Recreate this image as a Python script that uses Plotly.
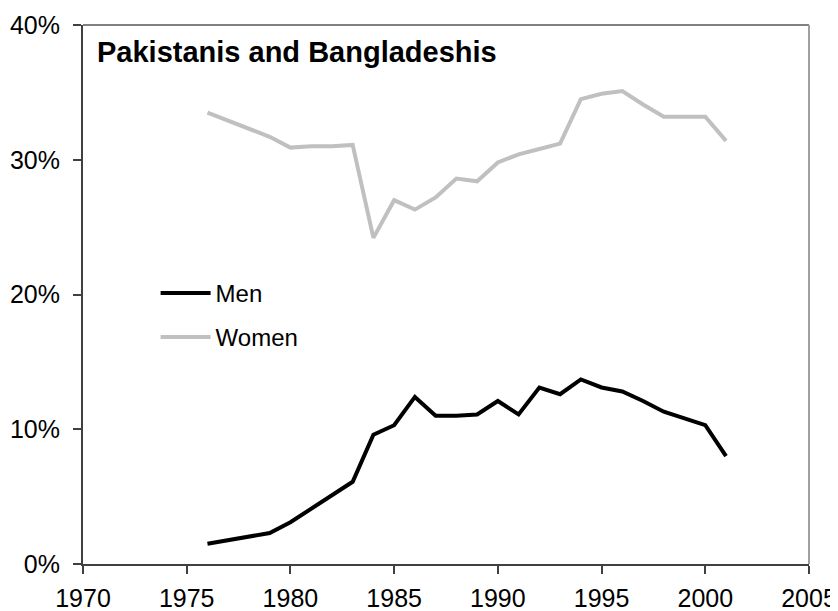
import plotly.graph_objects as go

years_men = [1976, 1979, 1980, 1981, 1982, 1983, 1984, 1985, 1986, 1987, 1988, 1989, 1990,
             1991, 1992, 1993, 1994, 1995, 1996, 1997, 1998, 1999, 2000, 2001]
men = [1.5, 2.3, 3.1, 4.1, 5.1, 6.1, 9.6, 10.3, 12.4, 11.0, 11.0, 11.1, 12.1,
       11.1, 13.1, 12.6, 13.7, 13.1, 12.8, 12.1, 11.3, 10.8, 10.3, 8.0]

years_women = [1976, 1979, 1980, 1981, 1982, 1983, 1984, 1985, 1986, 1987, 1988, 1989, 1990,
               1991, 1992, 1993, 1994, 1995, 1996, 1997, 1998, 1999, 2000, 2001]
women = [33.5, 31.7, 30.9, 31.0, 31.0, 31.1, 24.2, 27.0, 26.3, 27.2, 28.6, 28.4, 29.8,
         30.4, 30.8, 31.2, 34.5, 34.9, 35.1, 34.1, 33.2, 33.2, 33.2, 31.4]

x_ticks = [1970, 1975, 1980, 1985, 1990, 1995, 2000, 2005]
y_ticks = [0, 10, 20, 30, 40]
y_labels = ["0%", "10%", "20%", "30%", "40%"]

FONT = "Liberation Sans, Arial, sans-serif"

fig = go.Figure()
fig.add_trace(go.Scatter(x=years_men, y=[v / 100 for v in men], mode="lines", name="Men",
                         legendgroup="m",
                         line=dict(color="#000000", width=4)))
fig.add_trace(go.Scatter(x=years_women, y=[v / 100 for v in women], mode="lines", name="Women",
                         legendgroup="w",
                         line=dict(color="#c0c0c0", width=4)))

# page body adds an 8px margin, so the figure is 8px smaller on each axis
fig.update_layout(
    width=830, height=603,
    margin=dict(l=75, r=29, t=17, b=47),
    paper_bgcolor="white", plot_bgcolor="white",
    font=dict(family=FONT, size=24, color="#000000"),
    showlegend=True,
    legend=dict(x=0.1, y=0.544, xanchor="left", yanchor="top",
                bgcolor="rgba(0,0,0,0)", traceorder="grouped", tracegroupgap=10,
                itemwidth=50,
                font=dict(family=FONT, size=24, color="#000000")),
    xaxis=dict(range=[1970, 2005], tickvals=x_ticks, ticktext=[str(t) for t in x_ticks],
               automargin=False,
               showgrid=False, zeroline=False, showline=True, linecolor="#404040", linewidth=2,
               ticks="outside", ticklen=8, tickwidth=1.5, tickcolor="#404040",
               ticklabelstandoff=3,
               tickfont=dict(family=FONT, size=25, color="#000000")),
    yaxis=dict(range=[0, 0.40], tickvals=[v / 100 for v in y_ticks], ticktext=y_labels,
               automargin=False,
               showgrid=False, zeroline=False, showline=True, linecolor="#404040", linewidth=2,
               ticks="outside", ticklen=8, tickwidth=1.5, tickcolor="#404040",
               ticklabelstandoff=8,
               tickfont=dict(family=FONT, size=25, color="#000000")),
    annotations=[dict(text="<b>Pakistanis and Bangladeshis</b>", xref="paper", yref="paper",
                      x=0.016, y=0.95, xanchor="left", yanchor="middle", showarrow=False,
                      font=dict(family=FONT, size=29, color="#000000"))],
    shapes=[
        dict(type="line", xref="paper", yref="paper", x0=0, x1=1, y0=1, y1=1,
             line=dict(color="#808080", width=2)),
        dict(type="line", xref="paper", yref="paper", x0=1, x1=1, y0=0, y1=1,
             line=dict(color="#a0a0a0", width=2)),
    ],
)

fig.write_html("out.html")
